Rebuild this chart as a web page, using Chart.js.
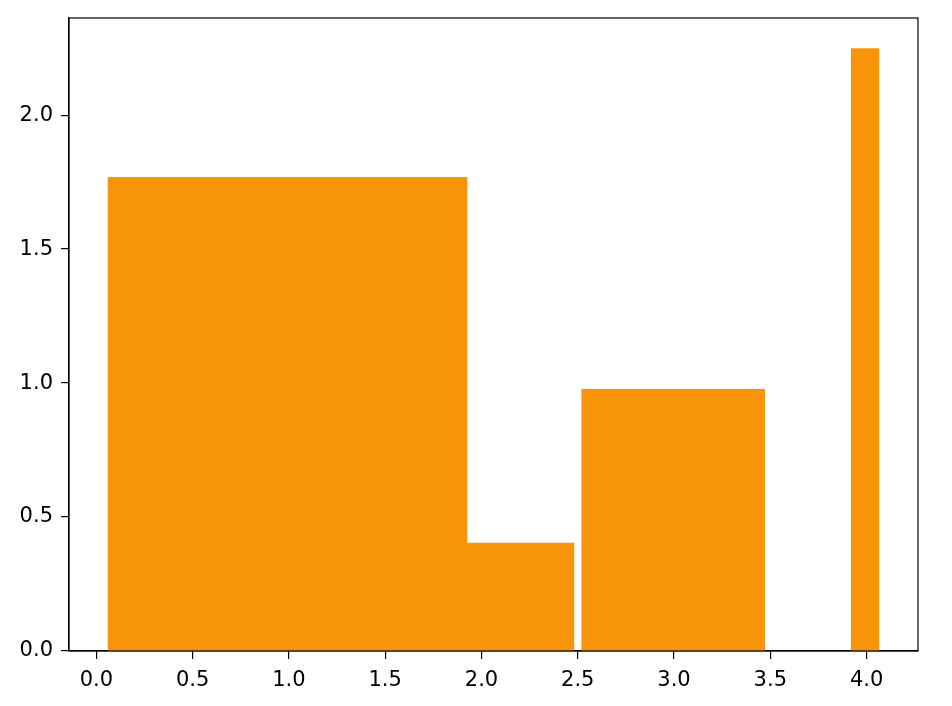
<!DOCTYPE html>
<html>
<head>
<meta charset="utf-8">
<script src="https://cdn.jsdelivr.net/npm/chart.js@4/dist/chart.umd.min.js"></script>
<style>
  html, body { margin: 0; padding: 0; background: #fff; }
  #wrap { width: 952px; height: 706px; }
</style>
</head>
<body>
<div id="wrap"><canvas id="myChart" width="952" height="706"></canvas></div>
<script>
// bar edges (left, right) and heights
const barLeft = [0.058, 1.927, 2.518, 3.918];
const barRight = [1.927, 2.483, 3.473, 4.067];
const barHeight = [1.769, 0.404, 0.978, 2.25];
const xTicks = [0, 0.5, 1, 1.5, 2, 2.5, 3, 3.5, 4];
const yTicks = [0, 0.5, 1, 1.5, 2];

const barColor = '#f8940a';

// bars that touch are joined into one filled step outline so no seam shows
const groups = [];
barHeight.forEach((h, i) => {
    const pts = [{ x: barLeft[i], y: h }, { x: barRight[i], y: h }];
    const last = groups[groups.length - 1];
    if (last && last[last.length - 1].x === barLeft[i]) last.push(...pts);
    else groups.push(pts);
});

const datasets = groups.map(pts => ({
    data: pts,
    fill: 'origin',
    backgroundColor: barColor,
    borderWidth: 0,
    pointRadius: 0,
    tension: 0,
}));

const frame = {
    id: 'frame',
    afterDraw(chart) {
        const { ctx, chartArea: a } = chart;
        ctx.save();
        ctx.strokeStyle = '#000';
        ctx.lineWidth = 1.2;
        ctx.strokeRect(a.left, a.top, a.right - a.left, a.bottom - a.top);
        ctx.restore();
    }
};

const tickFont = { family: 'DejaVu Sans', size: 21 };

new Chart(document.getElementById('myChart').getContext('2d'), {
    type: 'line',
    data: { datasets },
    options: {
        responsive: false,
        animation: false,
        layout: { padding: { top: 18, right: 34, left: 0, bottom: 0 } },
        plugins: { legend: { display: false }, tooltip: { enabled: false } },
        scales: {
            x: {
                type: 'linear',
                min: -0.142,
                max: 4.267,
                afterBuildTicks: s => { s.ticks = xTicks.map(v => ({ value: v })); },
                afterFit: s => { s.height = 55; s.paddingLeft = 0; s.paddingRight = 0; },
                ticks: {
                    font: tickFont, color: '#000', padding: 9,
                    maxRotation: 0, autoSkip: false,
                    callback: v => v.toFixed(1),
                },
                grid: { drawOnChartArea: false, drawTicks: true, tickLength: 8, color: '#000', lineWidth: 1.2 },
                border: { display: true, color: '#000', width: 1.2 },
            },
            y: {
                min: 0,
                max: 2.3625,
                afterBuildTicks: s => { s.ticks = yTicks.map(v => ({ value: v })); },
                afterFit: s => { s.width = 69; s.paddingTop = 0; s.paddingBottom = 0; },
                ticks: {
                    font: tickFont, color: '#000', padding: 8,
                    autoSkip: false,
                    callback: v => v.toFixed(1),
                },
                grid: { drawOnChartArea: false, drawTicks: true, tickLength: 8, color: '#000', lineWidth: 1.2 },
                border: { display: true, color: '#000', width: 1.2 },
            }
        }
    },
    plugins: [frame]
});
</script>
</body>
</html>
